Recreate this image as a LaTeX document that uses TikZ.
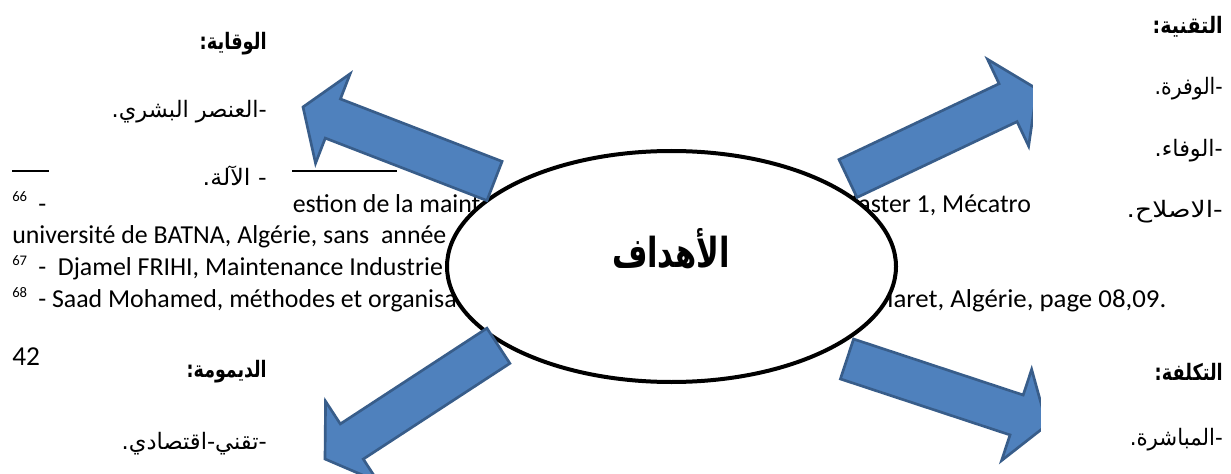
\documentclass[tikz,border=0pt]{standalone}
\usepackage{fontspec}
\usepackage{graphicx}
\setmainfont{Carlito}
\newfontfamily\arabicfont[Script=Arabic]{DejaVu Sans}
\TeXXeTstate=1
\usetikzlibrary{calc,shapes.geometric}
\definecolor{arrowfill}{HTML}{4F81BD}
\definecolor{arrowline}{HTML}{385D8A}

% block arrow from a tail centre #1 to a tip #2
\newcommand\drawblockarrow[2]{%
  \coordinate (#1-n) at ($(#2)!24pt!(#1)$);
  \draw[blockarrow] ($(#1)!15.75pt!90:(#2)$) -- ($(#1-n)!15.75pt!90:(#2)$)
    -- ($(#1-n)!36pt!90:(#2)$) -- (#2) -- ($(#1-n)!36pt!-90:(#2)$)
    -- ($(#1-n)!15.75pt!-90:(#2)$) -- ($(#1)!15.75pt!-90:(#2)$) -- cycle;
}
% a line of text set to a given width (in pt), height kept
\newcommand\fitline[2]{\resizebox{#1pt}{\height}{#2}}

\begin{document}
\begin{tikzpicture}[x=0.75pt,y=-0.75pt,
  note/.style={anchor=base west, inner sep=0pt, font=\fontsize{19.4}{22}\selectfont},
  notenum/.style={anchor=base west, inner sep=0pt, font=\fontsize{11}{13}\selectfont},
  artext/.style={anchor=east, inner sep=0pt, font=\arabicfont\fontsize{17}{20}\selectfont},
  arhead/.style={anchor=east, inner sep=0pt, font=\arabicfont\bfseries\fontsize{17}{20}\selectfont},
  coverbox/.style={fill=white, draw=none},
  blockarrow/.style={fill=arrowfill, draw=arrowline, line width=2pt, line join=miter},
  goal/.style={ellipse, draw=black, fill=white, line width=3pt,
    minimum width=336.75pt, minimum height=173.25pt, inner sep=0pt}]
\useasboundingbox (0,0) rectangle (1231,474);
\fill[white] (0,0) rectangle (1231,474);

% footnotes of the page underneath
\coordinate (sepL) at (12,171);
\coordinate (sepR) at (397,171);
\draw[line width=1pt] (sepL) -- (sepR);
\node[notenum] (n66) at (12,201) {66};
\node[note] (f66a) at (38,212) {-};
\node[note] (f66b) at (292.5,212) {estion de la maint};
\node[note] (f66c) at (836,212) {Master 1, Mécatro};
\node[note] (f66d) at (12,243.5) {université de BATNA, Algérie, sans\ \ année};
\node[notenum] (n67) at (12,265) {67};
\node[note] (f67) at (38,275.5) {-\ \ Djamel FRIHI, Maintenance Industrie};
\node[notenum] (n68) at (12,297.5) {68};
\node[note] (f68a) at (38,307.5) {- Saad Mohamed, méthodes et organisation};
\node[note] (f68b) at (874,307.5) {\fitline{219}{Tiaret, Algérie, page 08,09.}};
\node[anchor=base west, inner sep=0pt, font=\fontsize{20.5}{23}\selectfont] (page) at (12,365) {42};

% left text box
\fill[coverbox] (49,0) rectangle (292,216);

% central ellipse
\node[goal] (goal) at (671.5,266.5) {};
\node[inner sep=0pt, font=\arabicfont\bfseries\fontsize{31}{35}\selectfont] (goaltext) at (671,249)
  {\fitline{88.5}{\beginR الأهداف\endR}};

% arrows
\coordinate (a1t) at (494.5,181);  \coordinate (a1h) at (303,107);
\coordinate (a2t) at (848,178.5);  \coordinate (a2h) at (1037,89);
\coordinate (a3t) at (498.4,345.8); \coordinate (a3h) at (325,459);
\coordinate (a4t) at (847,359);    \coordinate (a4h) at (1047,425);
\drawblockarrow{a1t}{a1h}
\drawblockarrow{a2t}{a2h}
\drawblockarrow{a3t}{a3h}
\drawblockarrow{a4t}{a4h}

% right text boxes
\fill[coverbox] (1033,0) rectangle (1231,250);
\fill[coverbox] (1041,330) rectangle (1231,474);

% left column
\node[arhead] (wiqaya) at (267,44) {\fitline{50.25}{\beginR الوقاية:\endR}};
\node[artext] (bashar) at (267,112) {\fitline{116.25}{\beginR -العنصر البشري.\endR}};
\node[artext] (ala) at (267,176) {\fitline{48}{\beginR - الآلة.\endR}};
\node[arhead] (daymuma) at (267,372) {\fitline{60}{\beginR الديمومة:\endR}};
\node[artext] (taqni) at (267,444) {\fitline{108.75}{\beginR -تقني-اقتصادي.\endR}};

% right column
\node[arhead] (tiqniya) at (1223,27) {\fitline{52.5}{\beginR التقنية:\endR}};
\node[artext] (wafra) at (1223,89) {\fitline{51}{\beginR -الوفرة.\endR}};
\node[artext] (wafa) at (1223,151) {\fitline{51}{\beginR -الوفاء.\endR}};
\node[artext] (islah) at (1223,212) {\fitline{72}{\beginR -الاصلاح.\endR}};
\node[arhead] (taklifa) at (1223,372) {\fitline{51}{\beginR التكلفة:\endR}};
\node[artext] (mubashira) at (1223,440) {\fitline{69.75}{\beginR -المباشرة.\endR}};
\end{tikzpicture}
\end{document}
